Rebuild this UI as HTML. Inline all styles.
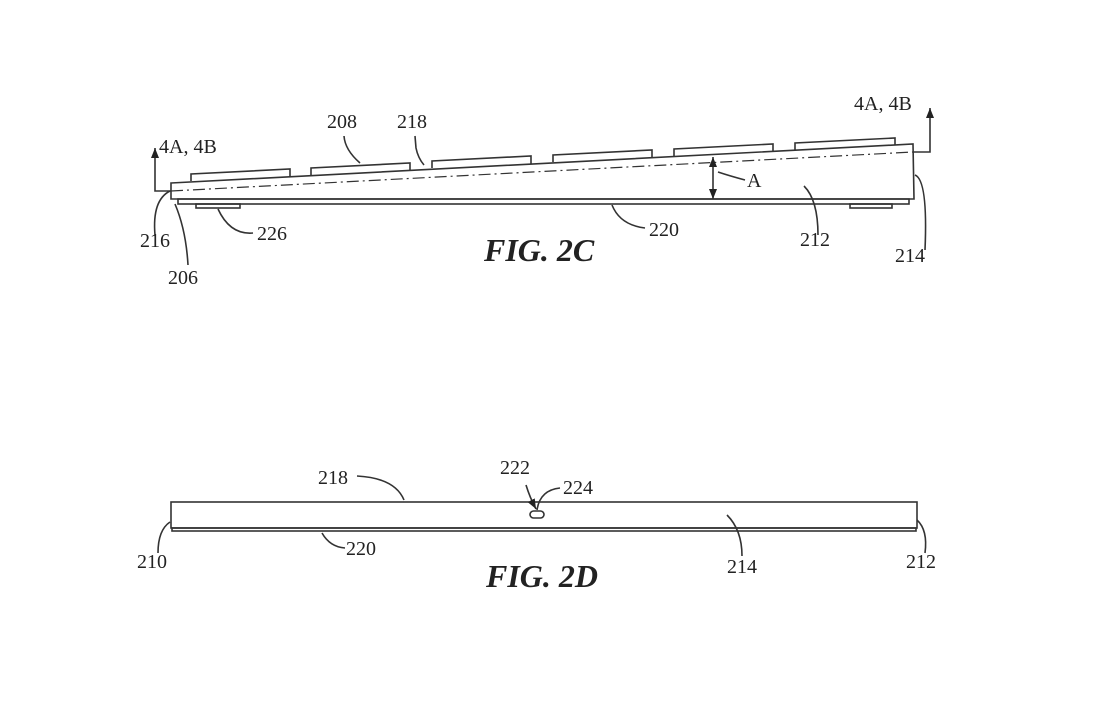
<!DOCTYPE html>
<html><head><style>
html,body{margin:0;padding:0;background:#fff;}
svg{display:block}
text{font-family:"Liberation Serif",serif;font-size:20px;fill:#222}
.fig{font-weight:bold;font-style:italic;font-size:32px}
</style></head><body>
<svg width="1106" height="706" viewBox="0 0 1106 706" xmlns="http://www.w3.org/2000/svg">
<defs><marker id="ah" markerWidth="10" markerHeight="8" refX="10" refY="4" orient="auto" markerUnits="userSpaceOnUse"><path d="M0,0 L10,4 L0,8 Z" fill="#222"/></marker></defs>
<g stroke="#333" stroke-width="1.6" fill="none">
<path d="M171,183 L913,144 L914,199 L171,199 Z"/>
<rect x="178" y="199" width="731" height="5"/>
<rect x="196" y="204" width="44" height="4"/>
<rect x="850" y="204" width="42" height="4"/>
<path d="M191,181 L191,174 L290,169 L290,177"/>
<path d="M311,175 L311,168 L410,163 L410,170"/>
<path d="M432,168 L432,161 L531,156 L531,164"/>
<path d="M553,162 L553,155 L652,150 L652,157"/>
<path d="M674,156 L674,149 L773,144 L773,151"/>
<path d="M795,150 L795,143 L895,138 L895,145"/>
<path d="M171,191 L913,152" stroke-dasharray="12,4,2,4" stroke-width="1.2"/>
<path d="M171,191 L155,191 L155,148" marker-end="url(#ah)"/>
<path d="M913,152 L930,152 L930,108" marker-end="url(#ah)"/>
<path d="M713,178 L713,157" marker-end="url(#ah)"/>
<path d="M713,178 L713,199" marker-end="url(#ah)"/>
<path d="M718,172 Q730,176 745,180"/>
<path d="M344,136 Q345,150 360,163"/>
<path d="M415,136 L416,148 Q418,158 424,165"/>
<path d="M170,191 Q152,200 155,235"/>
<path d="M175,204 Q186,230 188,265"/>
<path d="M218,209 Q230,235 253,233"/>
<path d="M612,205 Q620,225 645,228"/>
<path d="M804,186 Q818,200 818,235"/>
<path d="M915,175 Q928,180 925,250"/>
<rect x="171" y="502" width="746" height="26"/>
<rect x="172" y="528" width="744" height="3"/>
<rect x="530" y="511" width="14" height="7" rx="3.5"/>
<path d="M357,476 Q395,478 404,500"/>
<path d="M526,485 Q530,498 536,509" marker-end="url(#ah)"/>
<path d="M537,510 Q540,490 560,488"/>
<path d="M322,533 Q330,547 345,548"/>
<path d="M727,515 Q742,530 742,556"/>
<path d="M170,522 Q158,530 158,553"/>
<path d="M917,520 Q928,530 925,553"/>
</g>
<text x="327" y="128">208</text>
<text x="397" y="128">218</text>
<text x="159" y="153">4A, 4B</text>
<text x="854" y="110">4A, 4B</text>
<text x="747" y="187">A</text>
<text x="140" y="247">216</text>
<text x="168" y="284">206</text>
<text x="257" y="240">226</text>
<text x="649" y="236">220</text>
<text x="800" y="246">212</text>
<text x="895" y="262">214</text>
<text class="fig" x="484" y="261">FIG. 2C</text>
<text x="318" y="484">218</text>
<text x="500" y="474">222</text>
<text x="563" y="494">224</text>
<text x="137" y="568">210</text>
<text x="346" y="555">220</text>
<text x="727" y="573">214</text>
<text x="906" y="568">212</text>
<text class="fig" x="486" y="587">FIG. 2D</text>
</svg>
</body></html>
